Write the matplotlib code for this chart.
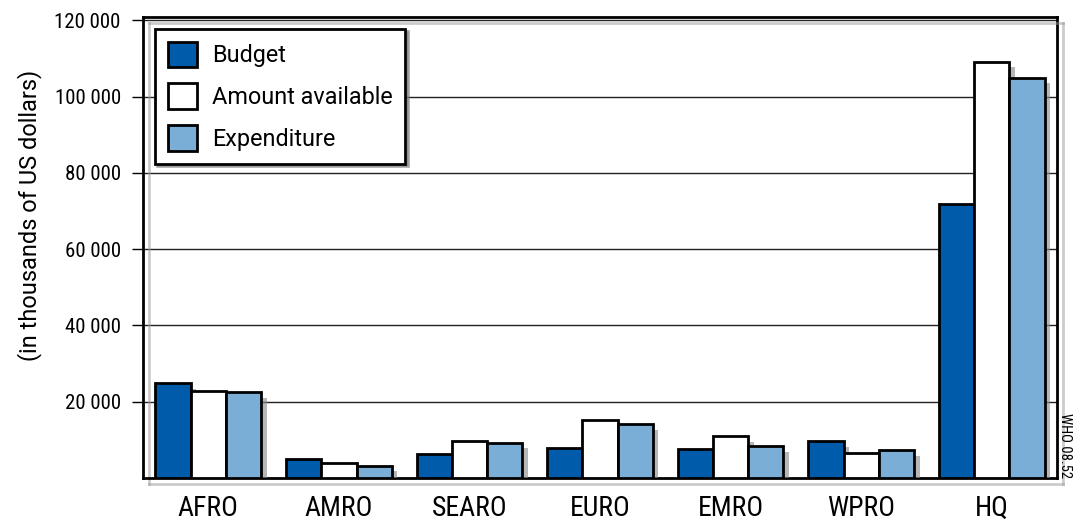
import numpy as np
import matplotlib
matplotlib.use("Agg")
import matplotlib.pyplot as plt
import matplotlib.patheffects as pe

# Data (thousands of US dollars)
regions = ["AFRO", "AMRO", "SEARO", "EURO", "EMRO", "WPRO", "HQ"]
budget = [24900, 4950, 6350, 8000, 7600, 9600, 71900]
available = [22900, 3950, 9800, 15100, 10900, 6550, 109200]
expenditure = [22550, 3250, 9250, 14150, 8300, 7250, 105000]

series_names = ["Budget", "Amount available", "Expenditure"]
colors = ["#005BAA", "#FFFFFF", "#7BAED6"]

narrow = ["Roboto Condensed", "DejaVu Sans"]
plain = ["Roboto", "DejaVu Sans"]

fig = plt.figure(figsize=(10.73, 5.25), dpi=100)
ax = fig.add_axes([0.1333, 0.0895, 0.8518, 0.8781])

shadow = [pe.SimplePatchShadow(offset=(4, -4), shadow_rgbFace="#888888", alpha=0.6), pe.Normal()]

x = np.arange(len(regions))
w = 0.27
for i, (vals, name, col) in enumerate(zip([budget, available, expenditure], series_names, colors)):
    bars = ax.bar(x + (i - 1) * w, vals, width=w, color=col, edgecolor="black",
                  linewidth=2, label=name, zorder=3)
    for b in bars:
        b.set_path_effects(shadow)

ax.set_xlim(-0.5, 6.5)
ax.set_ylim(0, 120900)
ax.set_yticks([20000, 40000, 60000, 80000, 100000, 120000])
ax.set_yticklabels(["20 000", "40 000", "60 000", "80 000", "100 000", "120 000"],
                   family=narrow, fontsize=15)
ax.set_xticks(x)
ax.set_xticklabels(regions, family=narrow, fontsize=20)
ax.tick_params(axis="x", length=0, pad=12)
ax.tick_params(axis="y", direction="out", length=8, width=1, pad=8)
ax.yaxis.grid(True, color="#222222", linewidth=1, zorder=1)
ax.set_axisbelow(True)

for s in ax.spines.values():
    s.set_linewidth(2)
    s.set_path_effects([pe.SimpleLineShadow(offset=(4, -4), shadow_color="#999999", alpha=0.5), pe.Normal()])

ax.set_ylabel("(in thousands of US dollars)", fontsize=17, family=plain)
ax.yaxis.set_label_coords(-0.11, 0.57)

leg = ax.legend(loc="upper left", bbox_to_anchor=(0.0, 1.0), prop={"family": plain, "size": 16.8},
                frameon=True, fancybox=False, shadow={"color": "#777777", "alpha": 0.6},
                edgecolor="black", handlelength=1.25, handleheight=1.3,
                borderpad=0.55, labelspacing=0.7, handletextpad=0.65,
                borderaxespad=0.5)
leg.get_frame().set_linewidth(2)
for h in leg.legend_handles:
    h.set_path_effects([])

fig.text(0.9925, 0.09, "WHO 08.52", rotation=-90, fontsize=10.5, ha="center", va="bottom",
         family=narrow)

fig.savefig("out.png", dpi=100)
